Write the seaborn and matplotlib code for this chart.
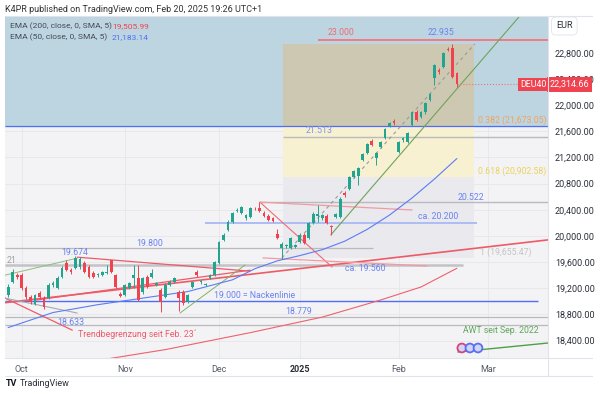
import numpy as np
import pandas as pd
import matplotlib
matplotlib.use("Agg")
import matplotlib.pyplot as plt
import seaborn as sns

# ----------------------------
# data (DEU40 daily, one bar per trading day)
# ----------------------------
opens = [19100, 19300, 19400, 19405, 19206, 19068, 18961, 19130, 19053, 19053,
         19250, 19206, 19374, 19588, 19480, 19511, 19527, 19588, 19527, 19435,
         19400, 19405, 19440, 19634, 19405, 19120, 19099, 19206, 19360, 19358,
         19145, 19374, 19374, 19250, 19175, 19068, 19252, 19300, 19145, 19145,
         18990, 19221, 19450, 19290, 19250, 19358, 19405, 19588, 19939, 20092,
         20214, 20380, 20351, 20275, 20290, 20430, 20428, 20351, 20306, 20275,
         20031, 19817, 19840, 19817, 19830, 19909, 20016, 19970, 20199, 20300,
         20275, 20306, 20153, 20290, 20290, 20650, 20718, 20901, 20917, 21161,
         21268, 21451, 21191, 21359, 21497, 21680, 21756, 21283, 21466, 21436,
         21695, 21894, 21818, 21894, 22077, 22413, 22530, 22581, 22860, 22872,
         22490]
highs = [19260, 19490, 19430, 19440, 19240, 19100, 19120, 19160, 19080, 19280,
         19310, 19390, 19540, 19630, 19510, 19690, 19674, 19620, 19560, 19460,
         19440, 19470, 19560, 19640, 19420, 19140, 19270, 19300, 19560, 19560,
         19380, 19400, 19500, 19300, 19200, 19280, 19320, 19380, 19170, 19170,
         19120, 19310, 19480, 19330, 19280, 19420, 19620, 19930, 20040, 20240,
         20370, 20420, 20460, 20340, 20450, 20450, 20522, 20380, 20330, 20290,
         20100, 19900, 19880, 19990, 19880, 20040, 20040, 20220, 20360, 20470,
         20340, 20330, 20170, 20350, 20590, 20680, 20920, 21010, 21060, 21270,
         21420, 21480, 21290, 21450, 21650, 21740, 21790, 21450, 21510, 21590,
         21910, 21920, 21910, 22050, 22190, 22630, 22560, 22810, 22890, 22935,
         22510]
lows = [19070, 19280, 19340, 19180, 19040, 18960, 18940, 19040, 18880, 19030,
        19220, 19190, 19350, 19460, 19420, 19490, 19500, 19430, 19350, 19350,
        19380, 19390, 19420, 19430, 19200, 19070, 19080, 19190, 19200, 19000,
        19120, 19200, 19350, 19230, 18840, 19050, 19230, 19280, 18860, 18950,
        18970, 19200, 19380, 19270, 19230, 19340, 19390, 19570, 19920, 20070,
        20200, 20360, 20330, 20250, 20270, 20400, 20360, 20290, 20230, 20210,
        19950, 19655, 19820, 19800, 19810, 19890, 19870, 19950, 20180, 20210,
        20250, 20180, 20016, 20270, 20270, 20600, 20700, 20880, 20780, 21140,
        21250, 21370, 21080, 21340, 21480, 21660, 21700, 21260, 21440, 21420,
        21680, 21750, 21800, 21870, 22060, 22307, 22480, 22560, 22830, 22420,
        22270]
closes = [19220, 19450, 19370, 19206, 19068, 18992, 19099, 19070, 18916, 19252,
          19275, 19358, 19511, 19481, 19450, 19664, 19650, 19450, 19374, 19374,
          19420, 19450, 19455, 19450, 19221, 19090, 19252, 19280, 19405, 19023,
          19358, 19221, 19435, 19280, 18992, 19252, 19297, 19360, 19053, 18977,
          19099, 19297, 19405, 19315, 19260, 19405, 19603, 19909, 20016, 20214,
          20351, 20400, 20440, 20321, 20428, 20420, 20382, 20306, 20245, 20229,
          19970, 19878, 19860, 19970, 19860, 20016, 19894, 20199, 20336, 20330,
          20321, 20199, 20138, 20336, 20566, 20630, 20901, 20993, 21039, 21253,
          21405, 21390, 21268, 21436, 21634, 21726, 21726, 21436, 21497, 21573,
          21894, 21772, 21894, 22031, 22170, 22612, 22510, 22795, 22840, 22429,
          22314.66]

# first trading day of each month (bar index)
month_pos = [3, 26, 47, 65, 87, 107]
month_labels = ['Oct', 'Nov', 'Dec', '2025', 'Feb', 'Mar']
price_ticks = [18400, 18800, 19200, 19600, 20000, 20400, 20800, 21200, 21600, 22000, 22400, 22800]

ema50_idx = [0, 10, 20, 30, 40, 50, 55, 60, 65, 70, 75, 80, 85, 90, 95, 100]
ema50_val = [18600, 18830, 18950, 19050, 19150, 19330, 19500, 19620, 19700, 19790,
             19920, 20100, 20320, 20580, 20870, 21183.14]
ema200_idx = [22, 35, 54, 70, 83, 92, 100]
ema200_val = [18120, 18263, 18523, 18760, 19021, 19220, 19505.99]

# fibonacci retracement drawn on the chart
fib_start, fib_end = 61.2, 103.8
fib_levels = [22935, 21673.05, 20902.58, 19655.47]

# horizontal levels: price, first bar, last bar
levels = {
    '23.000': (23000, 69, 120.3),
    'fib382': (21673.05, -0.7, 120.3),
    '21.513': (21513, 61.2, 120.3),
    '20.522': (20522, 56.1, 120.3),
    '20.200': (20200, 43.9, 104.5),
    '19.800': (19817, -0.7, 81.3),
    '19.560': (19560, -0.7, 101.3),
    '19.000': (19000, -0.7, 118.0),
    '18.779': (18761, -0.7, 120.3),
    '18.633': (18639, -0.7, 120.3),
}

# sloped drawings: (bar, price) pairs
trend_red_long = [(-0.7, 18980), (120.3, 19940)]
trend_red_note = [(-0.7, 19050), (14.3, 18560)]
pennant_upper = [(15.4, 19676), (53.9, 19462)]
pennant_lower = [(6.0, 19019), (53.9, 19477)]
dec_diag = [(56.1, 20517), (72.2, 19524)]
dec_upper = [(56.1, 20517), (90.0, 20397)]
dec_lower = [(56.8, 19664), (93.3, 19541)]
green_jan = [(71.9, 20016), (114.0, 23360)]
green_nov = [(38.3, 18822), (52.8, 19556)]
green_left = [(-0.7, 19401), (15.4, 19660)]
green_awt = [(100.2, 18227), (120.3, 18364)]
gray_dash = [(61.0, 19664), (104.0, 22933)]
gray_left = [(-0.7, 19050), (15.4, 18822)]
event_idx = [101.1, 102.9, 104.7]
event_price = [18288, 18288, 18288]

# ----------------------------
# plot
# ----------------------------
sns.set_theme(style="white")
plt.rcParams['font.family'] = ['Roboto', 'DejaVu Sans']

W, H = 600, 394
fig = plt.figure(figsize=(6, 3.94), dpi=100)
ax = fig.add_axes([5 / W, 1 - 358 / H, 543 / W, 342 / H])
ax.set_facecolor('#f3f3f5')
ax.set_xlim(-0.7, 120.3)
ax.set_ylim(18135, 23361)

for p in price_ticks:
    ax.axhline(p, color='#e7e7ea', lw=0.6, zorder=0)
for m in month_pos:
    ax.axvline(m, color='#e7e7ea', lw=0.6, zorder=0)

# shaded zones
ax.axhspan(fib_levels[1], 23361, color='#bdd5e1', zorder=1)
ax.fill_between([fib_start, fib_end], fib_levels[1], fib_levels[0], color='#cdc8b1', lw=0, zorder=1.2)
ax.fill_between([fib_start, fib_end], fib_levels[2], fib_levels[1], color='#f7f1d2', lw=0, zorder=1.2)
ax.fill_between([fib_start, fib_end], fib_levels[3], fib_levels[2], color='#e9e9ee', lw=0, zorder=1.2)

blue = '#4f6ef2'
gray = '#b9b9be'
level_style = {
    '23.000': ('#f27a83', 1.4), 'fib382': (blue, 0.9), '21.513': (gray, 1.0),
    '20.522': (gray, 1.0), '20.200': ('#aebcf6', 1.4), '19.800': (gray, 0.9),
    '19.560': ('#c2c2c7', 1.8), '19.000': (blue, 1.0), '18.779': (gray, 0.9),
    '18.633': (gray, 0.9),
}
for name, (p, a, b) in levels.items():
    c, w = level_style[name]
    ax.hlines(p, a, b, colors=c, lw=w, zorder=2)


def seg(pts, **kw):
    xs, ys = zip(*pts)
    sns.lineplot(x=list(xs), y=list(ys), ax=ax, sort=False, estimator=None, **kw)


seg(trend_red_long, color='#ef5a67', lw=1.2, zorder=3)
seg(trend_red_note, color='#ef5a67', lw=0.9, zorder=3)
seg(pennant_upper, color='#ef5a67', lw=0.9, zorder=3)
seg(pennant_lower, color='#ef5a67', lw=0.9, zorder=3)
seg(dec_diag, color='#ef6b76', lw=0.8, zorder=3)
seg(dec_upper, color='#f29aa2', lw=0.9, zorder=3)
seg(dec_lower, color='#f29aa2', lw=0.9, zorder=3)
seg(green_jan, color='#6fa35a', lw=0.8, zorder=3)
seg(green_nov, color='#7fb36a', lw=0.7, zorder=3)
seg(green_left, color='#8cbf7a', lw=0.7, zorder=3)
seg(green_awt, color='#4f9e4a', lw=1.0, zorder=3)
seg(gray_left, color='#a9a9ae', lw=0.8, zorder=3)
seg(gray_dash, color='#9a9a9f', lw=0.8, linestyle=(0, (3, 3)), zorder=3)

sns.lineplot(x=ema50_idx, y=ema50_val, ax=ax, color='#5b7cf5', lw=0.8, zorder=3)
sns.lineplot(x=ema200_idx, y=ema200_val, ax=ax, color='#f0606c', lw=0.8, zorder=3)

# candles
df = pd.DataFrame({'o': opens, 'h': highs, 'l': lows, 'c': closes})
df['i'] = np.arange(len(df))
col = np.where(df.c >= df.o, '#22a48f', '#f0424f')
ax.vlines(df.i, df.l, df.h, colors=col, lw=0.7, zorder=5)
body = (df.c - df.o).abs().clip(lower=10)
ax.bar(df.i, body, bottom=np.minimum(df.o, df.c), width=0.62, color=col, lw=0, zorder=6)

# last price
ax.hlines(closes[-1], len(closes) - 1, 120.3, colors='#f0707c', lw=0.8, linestyles=':', zorder=4)

# event markers
ax.scatter(event_idx, event_price, s=40, facecolor='#cdd6f6', edgecolor=['#e0407a', '#5a6ff0', '#5a6ff0'],
           lw=1.3, zorder=7, clip_on=False)

# labels on the chart
fs = 6.3
lab_blue = '#6b83f0'
notes = [
    ('19.674', 14.9, 19752, lab_blue, 'center'),
    ('19.800', 31.6, 19877, lab_blue, 'center'),
    ('18.633', 14.0, 18685, lab_blue, 'center'),
    ('Trendbegrenzung seit Feb. 23´', 15.6, 18502, '#ee5b68', 'left'),
    ('19.000 = Nackenlinie', 45.9, 19083, lab_blue, 'left'),
    ('18.779', 61.7, 18853, lab_blue, 'left'),
    ('ca. 19.560', 75.0, 19503, lab_blue, 'left'),
    ('ca. 20.200', 91.3, 20301, lab_blue, 'left'),
    ('20.522', 100.2, 20595, lab_blue, 'left'),
    ('21.513', 66.4, 21604, '#7f93e6', 'left'),
    ('23.000', 71.3, 23116, '#ee6b75', 'left'),
    ('22.935', 96.4, 23116, lab_blue, 'center'),
    ('0.382 (21,673.05)', 104.7, 21772, '#f2a35a', 'left'),
    ('0.618 (20,902.58)', 104.7, 20993, '#ecd35a', 'left'),
    ('1 (19,655.47)', 105.1, 19755, '#c4c4c8', 'left'),
    ('AWT seit Sep. 2022', 101.3, 18548, '#5da65a', 'left'),
    ('21', -0.4, 19630, '#a0a0a5', 'left'),
]
for t, x, y, c, ha in notes:
    ax.text(x, y, t, color=c, fontsize=fs, ha=ha, va='center', zorder=8, clip_on=True)

ax.text(119.9, closes[-1], 'DEU40', color='white', fontsize=6.3, ha='right', va='center', zorder=9,
        bbox=dict(boxstyle='square,pad=0.25', fc='#f0424f', ec='none'))

# axes
ax.yaxis.tick_right()
ax.set_yticks(price_ticks)
ax.set_yticklabels([f'{p:,.2f}' for p in price_ticks])
ax.tick_params(axis='y', length=0, pad=5, labelsize=6.5, labelcolor='#2a2e39')
ax.set_xticks(month_pos)
ax.set_xticklabels(month_labels)
ax.tick_params(axis='x', length=0, pad=5, labelsize=6.5, labelcolor='#555a66')
ax.get_xticklabels()[3].set_fontweight('bold')
ax.get_xticklabels()[3].set_color('#2a2e39')
ax.set_xlabel('')
ax.set_ylabel('')
for s in ax.spines.values():
    s.set_visible(False)

ax.text(1.003, closes[-1], f'{closes[-1]:,.2f}', transform=ax.get_yaxis_transform(), color='white',
        fontsize=6.5, ha='left', va='center', zorder=10, clip_on=False,
        bbox=dict(boxstyle='square,pad=0.3', fc='#f0424f', ec='none'))

# frame pieces outside the plot
fig.add_artist(plt.Line2D([5 / W, 592 / W], [1 - 358 / H] * 2, color='#e0e3eb', lw=0.8))
fig.add_artist(plt.Line2D([5 / W, 592 / W], [1 - 376 / H] * 2, color='#e0e3eb', lw=0.8))
fig.add_artist(plt.Line2D([548 / W] * 2, [1 - 16 / H, 1 - 376 / H], color='#e0e3eb', lw=0.8))
fig.add_artist(plt.Line2D([5 / W, 592 / W], [1 - 16 / H] * 2, color='#e0e3eb', lw=0.8))

fig.text(5 / W, 1 - 9 / H, 'K4PR published on TradingView.com, Feb 20, 2025 19:26 UTC+1',
         fontsize=6.5, color='#333333', va='center')
fig.text(10 / W, 1 - 26 / H, 'EMA (200, close, 0, SMA, 5)', fontsize=6.0, color='#444a55', va='center')
fig.text(112 / W, 1 - 26 / H, '19,505.99', fontsize=6.0, color='#f0424f', va='center')
fig.text(10 / W, 1 - 37 / H, 'EMA (50, close, 0, SMA, 5)', fontsize=6.0, color='#444a55', va='center')
fig.text(112 / W, 1 - 37 / H, '21,183.14', fontsize=6.0, color='#4f6ef2', va='center')
fig.text(556 / W, 1 - 26 / H, 'EUR', fontsize=6.5, color='#2a2e39', va='center',
         bbox=dict(boxstyle='round,pad=0.5', fc='white', ec='#e0e3eb', lw=0.6))
fig.text(6 / W, 1 - 384 / H, 'TV', fontsize=6.5, color='#131722', va='center', fontweight='bold')
fig.text(20 / W, 1 - 384 / H, 'TradingView', fontsize=6.5, color='#2a2e39', va='center')

fig.savefig('out.png', dpi=100, facecolor='white')
